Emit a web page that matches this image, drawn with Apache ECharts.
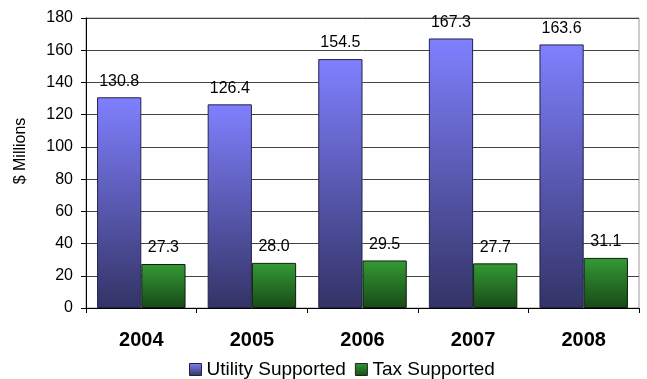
<!DOCTYPE html>
<html>
<head>
<meta charset="utf-8">
<script src="https://cdn.jsdelivr.net/npm/echarts@6/dist/echarts.min.js"></script>
<style>
  html, body { margin: 0; padding: 0; background: #fff; }
  #chart { width: 647px; height: 379px; }
</style>
</head>
<body>
<div id="chart"></div>
<script>
// Annual debt service, in millions of dollars
const years = ['2004', '2005', '2006', '2007', '2008'];
const utilitySupported = [130.8, 126.4, 154.5, 167.3, 163.6];
const taxSupported = [27.3, 28.0, 29.5, 27.7, 31.1];
const yTicks = { min: 0, max: 180, interval: 20 };
const yAxisTitle = '$ Millions';

const FONT = '"Liberation Sans", Arial, sans-serif';

function vGrad(top, bottom) {
  return {
    type: 'linear', x: 0, y: 0, x2: 0, y2: 1,
    colorStops: [{ offset: 0, color: top }, { offset: 1, color: bottom }]
  };
}

const labelStyle = {
  show: true,
  position: 'top',
  distance: 8,
  fontFamily: FONT,
  fontSize: 16,
  color: '#000',
  formatter: p => p.value.toFixed(1)
};

const chart = echarts.init(document.getElementById('chart'), null, { renderer: 'canvas' });
chart.setOption({
  animation: false,
  backgroundColor: '#fff',
  grid: {
    left: 86, right: 8, top: 18, bottom: 71,
    show: true, borderColor: '#999', borderWidth: 1
  },
  graphic: [{
    type: 'text',
    x: 21, y: 151,
    rotation: Math.PI / 2,
    style: {
      text: yAxisTitle,
      fontFamily: FONT, fontSize: 16, fill: '#000',
      align: 'center', verticalAlign: 'middle'
    }
  }],
  legend: {
    top: 360,
    left: 189,
    padding: 0,
    itemWidth: 12,
    itemHeight: 12,
    itemGap: 9,
    icon: 'rect',
    itemStyle: { borderColor: '#222', borderWidth: 1 },
    textStyle: { fontFamily: FONT, fontSize: 19, color: '#000' },
    data: ['Utility Supported', 'Tax Supported']
  },
  xAxis: {
    type: 'category',
    data: years,
    axisLine: { lineStyle: { color: '#000', width: 1 } },
    axisTick: { show: true, length: 5, lineStyle: { color: '#000' } },
    axisLabel: { fontFamily: FONT, fontSize: 20, fontWeight: 'bold', color: '#000', margin: 22 }
  },
  yAxis: {
    type: 'value',
    min: yTicks.min, max: yTicks.max, interval: yTicks.interval,
    axisLine: { show: true, lineStyle: { color: '#000', width: 1 } },
    axisTick: { show: true, length: 5, lineStyle: { color: '#000' } },
    axisLabel: { fontFamily: FONT, fontSize: 16, color: '#000', margin: 13 },
    splitLine: { lineStyle: { color: '#444', width: 1 } }
  },
  series: [
    {
      name: 'Utility Supported',
      type: 'bar',
      data: utilitySupported,
      barGap: '0%',
      barCategoryGap: '20%',
      itemStyle: { color: vGrad('#8080ff', '#333366'), borderColor: '#23234d', borderWidth: 1 },
      label: labelStyle
    },
    {
      name: 'Tax Supported',
      type: 'bar',
      data: taxSupported,
      itemStyle: { color: vGrad('#349a34', '#184a18'), borderColor: '#0d1f0d', borderWidth: 1 },
      label: labelStyle
    }
  ]
});
</script>
</body>
</html>
